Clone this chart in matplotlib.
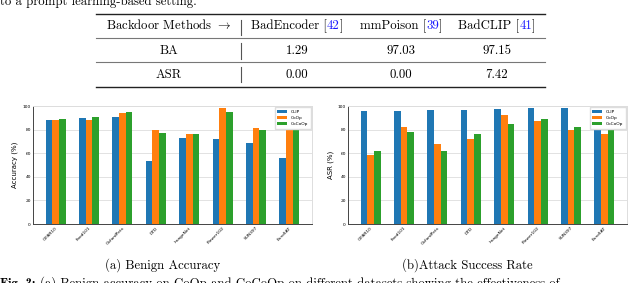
import numpy as np
import matplotlib
matplotlib.use("Agg")
import matplotlib.pyplot as plt

plt.rcParams['mathtext.fontset'] = 'cm'

# table contents
methods = ['BadEncoder', 'mmPoison', 'BadCLIP']
cites = ['42', '39', '41']
row_names = ['BA', 'ASR']
table_vals = [['1.29', '97.03', '97.15'],
              ['0.00', '0.00', '7.42']]

# bar chart data
datasets = ['CIFAR10', 'Food101', 'OxfordPets', 'DTD', 'ImageNet',
            'Flower102', 'SUN397', 'EuroSAT']
models = ['CLIP', 'CoOp', 'CoCoOp']
acc_clip = [88, 90, 91, 53, 73, 72, 69, 56]
acc_coop = [88, 88, 94, 80, 76, 98, 81, 85]
acc_cocoop = [89, 91, 95, 77, 76, 95, 80, 85]
asr_clip = [96, 96, 96.5, 97, 97.5, 98, 98.5, 99]
asr_coop = [58.5, 82, 68, 72, 92.5, 87, 80, 76.5]
asr_cocoop = [62, 78, 62, 76, 85, 89, 82.5, 80]

W, H = 640, 283
fig = plt.figure(figsize=(W / 100, H / 100), dpi=100)

# page layer in pixel coordinates
page = fig.add_axes([0, 0, 1, 1], zorder=-1)
page.set_xlim(0, W)
page.set_ylim(H, 0)
page.axis('off')

serif = dict(family='cmr10', fontsize=9.2)

page.text(0, 5, 'to a prompt learning-based setting.', va='baseline', **serif)

# booktabs rules
tx0, tx1 = 96, 545
page.plot([tx0, tx1], [13.5, 13.5], color='#222222', lw=1.0)
page.plot([tx0, tx1], [37.7, 37.7], color='#777777', lw=0.8)
page.plot([tx0, tx1], [62, 62], color='#777777', lw=0.8)
page.plot([tx0, tx1], [86.5, 86.5], color='#222222', lw=1.0)
for y0, y1 in [(19.5, 34.5), (42.5, 58.5), (66.5, 82)]:
    page.plot([241, 241], [y0, y1], color='#555555', lw=0.8)

page.text(169, 29, r'Backdoor Methods $\rightarrow$', ha='center', va='baseline', **serif)

renderer = fig.canvas.get_renderer()


def width_px(s):
    t = page.text(0, 0, s, **serif)
    w = t.get_window_extent(renderer).width
    t.remove()
    return w


col_centers = [297, 401, 497]
for cx, m, c in zip(col_centers, methods, cites):
    parts = [(m + ' [', 'black'), (c, '#1a1aff'), (']', 'black')]
    total = sum(width_px(p) for p, _ in parts)
    x = cx - total / 2
    for p, col in parts:
        page.text(x, 29, p, color=col, va='baseline', **serif)
        x += width_px(p)

for ry, name, vals in zip([54, 78], row_names, table_vals):
    page.text(169, ry, name, ha='center', va='baseline', **serif)
    for cx, v in zip(col_centers, vals):
        page.text(cx, ry, v, ha='center', va='baseline', **serif)


def bar_chart(rect, series, ylabel):
    ax = fig.add_axes(rect)
    x = np.arange(len(datasets))
    colors = ['#1f77b4', '#ff7f0e', '#2ca02c']
    for i, (vals, lab, col) in enumerate(zip(series, models, colors)):
        ax.bar(x + (i - 1) * 0.2, vals, 0.2, color=col, label=lab, zorder=2)
    ax.set_ylim(0, 100)
    ax.set_yticks(range(0, 101, 20))
    ax.set_xticks(x)
    ax.set_xticklabels(datasets, rotation=45, ha='right', rotation_mode='anchor')
    ax.tick_params(labelsize=3.2, length=0, pad=1.5)
    ax.set_ylabel(ylabel, fontsize=5, labelpad=3)
    ax.grid(axis='y', color='#dddddd', lw=0.6, zorder=0)
    for s in ['top', 'right']:
        ax.spines[s].set_color('#dddddd')
    for s in ['left', 'bottom']:
        ax.spines[s].set_color('#444444')
    for s in ax.spines.values():
        s.set_linewidth(0.7)
    ax.legend(loc='upper right', fontsize=3.2, framealpha=1, edgecolor='#dddddd',
              handlelength=2.2, handleheight=0.8, borderpad=0.6, labelspacing=0.4,
              fancybox=False, borderaxespad=0.3)
    return ax


bar_chart([33 / W, 1 - 224 / H, 279 / W, 118 / H],
          [acc_clip, acc_coop, acc_cocoop], 'Accuracy (%)')
bar_chart([348 / W, 1 - 224 / H, 279 / W, 118 / H],
          [asr_clip, asr_coop, asr_cocoop], 'ASR (%)')

page.text(163, 268.5, '(a) Benign Accuracy', ha='center', va='baseline', **serif)
page.text(467, 268.5, '(b)Attack Success Rate', ha='center', va='baseline', **serif)

bold = page.text(0, 287, 'Fig. 3:', family='cmb10', fontsize=9.2, va='baseline')
page.text(width_px('Fig. 3:') + 4, 287,
          '(a) Benign accuracy on CoOp and CoCoOp on different datasets showing the effectiveness of',
          va='baseline', **serif)

fig.savefig('out.png', dpi=100)
